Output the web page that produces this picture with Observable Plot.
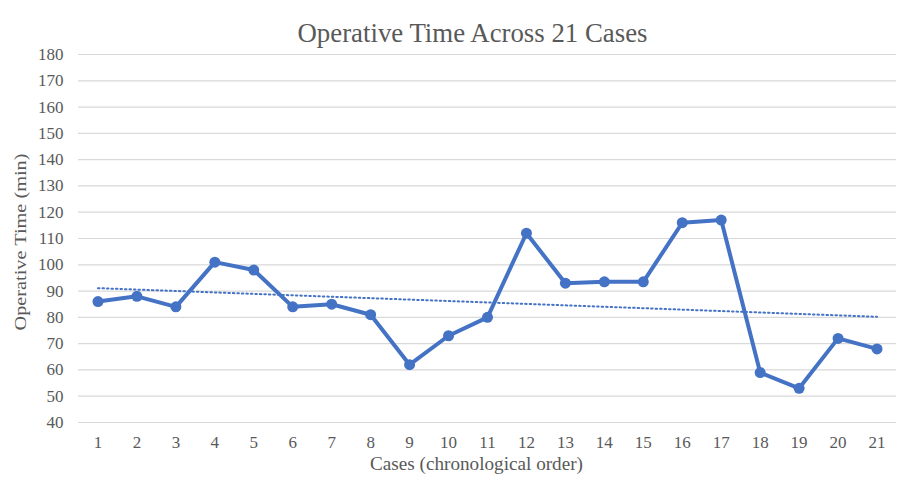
<!DOCTYPE html>
<html>
<head>
<meta charset="utf-8">
<script src="https://cdn.jsdelivr.net/npm/d3@7"></script>
<script src="https://cdn.jsdelivr.net/npm/@observablehq/plot@0.6"></script>
<style>
  html, body { margin: 0; padding: 0; background: #fff; }
  #chart { width: 899px; height: 488px; }
</style>
</head>
<body>
<div id="chart"></div>
<script>
const title = "Operative Time Across 21 Cases";
const xLabel = "Cases (chronological order)";
const yLabel = "Operative Time (min)";
const cases = [1,2,3,4,5,6,7,8,9,10,11,12,13,14,15,16,17,18,19,20,21];
const minutes = [86,88,84,101,98,84,85,81,62,73,80,112,93,93.5,93.5,116,117,59,53,72,68];
const yTicks = [40,50,60,70,80,90,100,110,120,130,140,150,160,170,180];

const data = cases.map((c, i) => ({case: c, time: minutes[i]}));
const blue = "#4472C4";
const grey = "#595959";
const font = "'Liberation Serif', 'Times New Roman', serif";

const chart = Plot.plot({
  width: 899,
  height: 488,
  marginLeft: 78,
  marginRight: 3,
  marginTop: 54,
  marginBottom: 66,
  style: {fontFamily: font, fontSize: "17px", color: grey, background: "#fff"},
  x: {domain: [0.5, 21.5], label: null},
  y: {domain: [40, 180], label: null},
  marks: [
    Plot.gridY(yTicks, {stroke: "#d9d9d9", strokeOpacity: 1, strokeWidth: 1.2}),
    Plot.axisX(cases, {tickSize: 0, tickPadding: 13, fontSize: 17, fill: grey, tickFormat: d => String(d), label: null}),
    Plot.axisY(yTicks, {tickSize: 0, tickPadding: 15, fontSize: 17, fill: grey, label: null}),
    Plot.linearRegressionY(data, {x: "case", y: "time", ci: 0, stroke: blue, strokeWidth: 2, strokeDasharray: "1.5 3"}),
    Plot.line(data, {x: "case", y: "time", stroke: blue, strokeWidth: 4, strokeLinejoin: "round"}),
    Plot.dot(data, {x: "case", y: "time", r: 5.5, fill: blue, stroke: "none"}),
    Plot.text([title], {frameAnchor: "top", dx: -15, dy: -32, fontSize: 27, fill: grey, fontFamily: font}),
    Plot.text([xLabel], {frameAnchor: "bottom", dx: -11, dy: 47, fontSize: 19, fill: grey, fontFamily: font}),
    Plot.text([yLabel], {frameAnchor: "left", rotate: -90, textAnchor: "start", dx: -58, dy: 92, fontSize: 16, fill: grey, fontFamily: font})
  ]
});
chart.querySelectorAll("text").forEach(t => {
  if (t.textContent === yLabel) {
    t.setAttribute("textLength", "177");
    t.setAttribute("lengthAdjust", "spacingAndGlyphs");
  }
  if (t.textContent === xLabel) {
    t.setAttribute("textLength", "213");
    t.setAttribute("lengthAdjust", "spacingAndGlyphs");
  }
  if (t.textContent === title) {
    t.setAttribute("textLength", "350");
    t.setAttribute("lengthAdjust", "spacingAndGlyphs");
  }
});
document.getElementById("chart").appendChild(chart);
</script>
</body>
</html>
